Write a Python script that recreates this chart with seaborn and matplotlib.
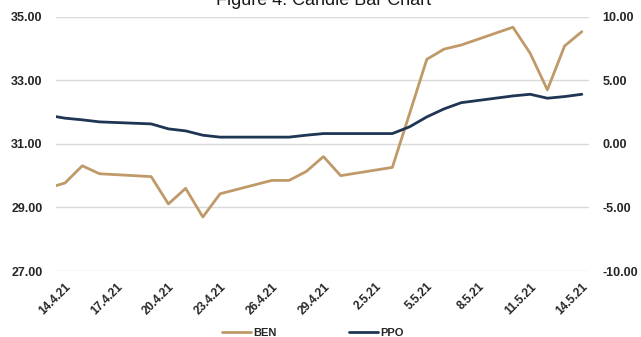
import numpy as np
import pandas as pd
import matplotlib
matplotlib.use("Agg")
import matplotlib.pyplot as plt
import matplotlib.ticker as mticker
import seaborn as sns

# data (trading days only, weekends are interpolated by the line)
dates = ["2021-04-13", "2021-04-14", "2021-04-15", "2021-04-16", "2021-04-19",
         "2021-04-20", "2021-04-21", "2021-04-22", "2021-04-23", "2021-04-26",
         "2021-04-27", "2021-04-28", "2021-04-29", "2021-04-30", "2021-05-03",
         "2021-05-04", "2021-05-05", "2021-05-06", "2021-05-07", "2021-05-10",
         "2021-05-11", "2021-05-12", "2021-05-13", "2021-05-14"]
ben = [29.61, 29.77, 30.31, 30.06, 29.97, 29.11, 29.60, 28.70, 29.43, 29.85,
       29.85, 30.13, 30.60, 30.00, 30.26, 31.95, 33.66, 33.98, 34.11, 34.67,
       33.85, 32.70, 34.08, 34.53]
ppo = [2.25, 2.02, 1.89, 1.73, 1.57, 1.18, 1.02, 0.68, 0.53, 0.53,
       0.53, 0.68, 0.81, 0.81, 0.81, 1.34, 2.12, 2.75, 3.24, 3.77,
       3.90, 3.59, 3.72, 3.90]
left_ticks = [27, 29, 31, 33, 35]
right_ticks = [-10, -5, 0, 5, 10]
title = "Figure 4: Candle Bar Chart"

df = pd.DataFrame({"date": pd.to_datetime(dates), "BEN": ben, "PPO": ppo})

sns.set_theme(style="white")
plt.rcParams["font.family"] = ["Liberation Sans", "DejaVu Sans"]

BEN_COL = "#BF9A68"
PPO_COL = "#1E3553"
TXT = "#262626"

fig = plt.figure(figsize=(6.41, 3.37), dpi=100)
ax = fig.add_axes([0.0869, 0.1958, 0.9189 - 0.0869, 0.9504 - 0.1958])
ax2 = ax.twinx()

sns.lineplot(data=df, x="date", y="BEN", ax=ax, color=BEN_COL, linewidth=2.0, label="BEN")
sns.lineplot(data=df, x="date", y="PPO", ax=ax2, color=PPO_COL, linewidth=2.0, label="PPO")

h1, l1 = ax.get_legend_handles_labels()
h2, l2 = ax2.get_legend_handles_labels()
ax.get_legend().remove()
ax2.get_legend().remove()

ax.set_xlim(pd.Timestamp("2021-04-14") - pd.Timedelta(hours=13),
            pd.Timestamp("2021-05-14") + pd.Timedelta(hours=10))
ax.set_ylim(27, 35)
ax2.set_ylim(-10, 10)

xt = pd.date_range("2021-04-14", "2021-05-14", freq="3D")
ax.set_xticks(xt)
ax.set_xticklabels([f"{d.day}.{d.month}.{d.strftime('%y')}" for d in xt],
                   rotation=45, ha="right", rotation_mode="anchor",
                   fontsize=8.5, fontweight="bold", color=TXT)

ax.set_yticks(left_ticks)
ax.yaxis.set_major_formatter(mticker.FormatStrFormatter("%.2f"))
ax2.set_yticks(right_ticks)
ax2.yaxis.set_major_formatter(mticker.FormatStrFormatter("%.2f"))
for a in (ax, ax2):
    a.tick_params(axis="y", length=0, pad=9.5, labelsize=9, labelcolor=TXT)
    for t in a.get_yticklabels():
        t.set_fontweight("bold")
    for s in a.spines.values():
        s.set_visible(False)
    a.set_xlabel("")
    a.set_ylabel("")
ax.tick_params(axis="x", length=0, pad=7)

ax.grid(axis="y", color="#D9D9D9", linewidth=1.0)
ax.grid(axis="x", visible=False)
ax2.grid(False)
ax.set_axisbelow(True)

fig.text(0.505, 0.985, title, ha="center", va="baseline", fontsize=13, color="#1a1a1a")

fig.legend(h1 + h2, l1 + l2, loc="center", bbox_to_anchor=(0.488, 0.012), ncol=2,
           frameon=False, handlelength=2.6, handletextpad=0.2, columnspacing=6.5,
           prop={"size": 8, "weight": "bold"}, labelcolor=TXT)

fig.savefig("out.png", dpi=100)
